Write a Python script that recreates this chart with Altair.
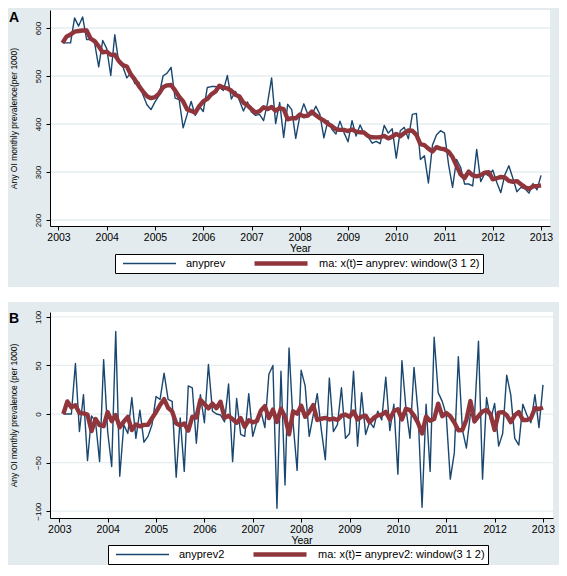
import altair as alt
import pandas as pd

# ---------------- data ----------------
years = list(range(2003, 2013))
months = list(range(1, 13))
t = [y + m / 12 for y in years for m in months]

anyprev = [
    569, 569, 569, 621, 604, 623, 576, 576, 568, 519,
    574, 557, 501, 586, 527, 520, 496, 506, 484, 487,
    461, 440, 430, 446, 459, 500, 506, 518, 454, 451,
    392, 420, 447, 418, 437, 426, 476, 478, 478, 476,
    470, 501, 452, 468, 449, 427, 446, 425, 418, 420,
    407, 444, 496, 401, 445, 372, 441, 430, 370, 416,
    442, 420, 419, 437, 420, 371, 407, 389, 379, 406,
    382, 363, 407, 375, 398, 380, 373, 360, 364, 359,
    397, 381, 390, 329, 386, 393, 369, 420, 422, 326,
    334, 277, 356, 377, 386, 381, 316, 268, 326, 310,
    275, 275, 271, 347, 280, 297, 292, 304, 278, 257,
    294, 313, 287, 259, 268, 265, 256, 276, 263, 293,
]

anyprev2 = [
    0, 0, 0, 52, -18, 20, -48, -2, -8, -49,
    56, -18, -54, 85, -64, -11, -20, 17, -25, 4,
    -29, -23, -11, 18, 15, 42, 15, 13, -65, -4,
    -59, 29, 27, -30, 20, -9, 51, 3, 0, -1,
    -8, 31, -49, 16, -21, -23, 21, -23, -8, 3,
    -14, 41, 50, -97, 44, -73, 68, -9, -58, 45,
    29, -23, -1, 21, -16, -47, 37, -18, -11, 27,
    -25, -20, 44, -33, 22, -21, -8, -14, 3, -6,
    38, -17, 10, -62, 55, 6, -25, 48, 2, -96,
    10, -59, 79, 22, 13, -1, -67, -40, 59, -16,
    -35, 0, -3, 75, -67, 17, -6, 11, -33, -20,
    40, 20, -25, -32, 10, -1, -9, 20, -14, 30,
]

names_a = ["anyprev", "ma: x(t)= anyprev: window(3 1 2)"]
names_b = ["anyprev2", "ma: x(t)= anyprev2: window(3 1 2)"]
yticks_a = [200, 300, 400, 500, 600]
yticks_b = [-100, -50, 0, 50, 100]
xticks = list(range(2003, 2014))

# ---------------- style ----------------
FONT = "Liberation Sans"
BG = "#e3ebee"
GRID = "#e6edf0"
COLORS = ["#1a476f", "#90353b"]
WIDTHS = [1.4, 4.4]


def panel(values, names, yticks, ydomain, xdomain, w, h, ytitle, letter,
          bg_y, letter_y, leg_xy):
    df = pd.DataFrame({"t": t, "value": values})
    one = alt.Data(values=[{}])
    xscale = alt.Scale(domain=xdomain, nice=False, zero=False)
    yscale = alt.Scale(domain=ydomain, nice=False, zero=False)

    xaxis = alt.Axis(values=xticks, format="d", title="Year", grid=False,
                     domainColor="black", domainWidth=1, tickColor="black",
                     tickSize=4, labelFont=FONT, labelFontSize=10.5,
                     labelColor="black", labelPadding=2, labelFlush=False,
                     titleFont=FONT, titleFontSize=10.5, titleFontWeight="normal",
                     titleColor="black", titlePadding=1, zindex=1)
    yaxis = alt.Axis(values=yticks, format="d", title=ytitle, grid=False,
                     domainColor="black", domainWidth=1, tickColor="black",
                     tickSize=4, labelFont=FONT, labelFontSize=8,
                     labelColor="black", labelPadding=4, labelAngle=270,
                     labelAlign="center", labelBaseline="bottom",
                     titleFont=FONT, titleFontSize=8.5, titleFontWeight="normal",
                     titleColor="black", titleAngle=270, titleX=-37,
                     titleY=h / 2, titleAlign="center", titleBaseline="middle",
                     zindex=1)

    leg = alt.Legend(title=None, orient="none", legendX=leg_xy[0],
                     legendY=leg_xy[1], direction="horizontal",
                     symbolType="stroke", symbolSize=2809, clipHeight=13,
                     labelFont=FONT, labelFontSize=11, labelColor="black",
                     fillColor="white", strokeColor="black", padding=3,
                     columnPadding=22, labelOffset=9, symbolOffset=4,
                     labelLimit=0, zindex=1)
    color = alt.Color("series:N", scale=alt.Scale(domain=names, range=COLORS),
                      legend=leg)
    sw = alt.StrokeWidth("series:N",
                         scale=alt.Scale(domain=names, range=WIDTHS),
                         legend=leg)

    x_enc = alt.X("t:Q", scale=xscale, axis=xaxis)
    y_enc = alt.Y("val:Q", scale=yscale, axis=yaxis)

    bg = alt.Chart(one).mark_rect(color=BG).encode(
        x=alt.value(-42), x2=alt.value(509),
        y=alt.value(bg_y[0]), y2=alt.value(bg_y[1]))
    plot_bg = alt.Chart(one).mark_rect(color="white").encode(
        x=alt.value(0), x2=alt.value(w), y=alt.value(0), y2=alt.value(h))
    grid = alt.Chart(pd.DataFrame({"val": yticks})).mark_rule(
        color=GRID, strokeWidth=1.3).encode(
        y=y_enc, x=alt.value(0), x2=alt.value(w))

    raw = alt.Chart(df).transform_calculate(
        val="datum.value", series=f"'{names[0]}'"
    ).mark_line(strokeJoin="round").encode(
        x=x_enc, y=y_enc, color=color, strokeWidth=sw)

    ma = alt.Chart(df).transform_window(
        ma="mean(value)", frame=[-3, 2], sort=[alt.SortField("t")]
    ).transform_calculate(
        val="datum.ma", series=f"'{names[1]}'"
    ).mark_line(strokeJoin="round").encode(
        x=x_enc, y=y_enc, color=color, strokeWidth=sw)

    lab = alt.Chart(one).mark_text(
        text=letter, font=FONT, fontSize=14, fontWeight="bold",
        align="left", baseline="alphabetic", color="black").encode(
        x=alt.value(-41), y=alt.value(letter_y))

    return alt.layer(bg, plot_bg, grid, raw, ma, lab).properties(
        width=w, height=h)


pa = panel(anyprev, names_a, yticks_a, [187.5, 637.5], [2002.824, 2013.186],
           500, 216, "Any OI monthly prevalence(per 1000)", "A",
           (-2, 277), 12, (65, 244))
pb = panel(anyprev2, names_b, yticks_b, [-107, 105], [2002.808, 2013.207],
           503, 206, "Any OI monthly prevalence (per 1000)", "B",
           (-10, 253), 11, (58, 233))

chart = alt.vconcat(pa, pb, spacing=15).resolve_scale(
    x="independent", y="independent", color="independent",
    strokeWidth="independent"
).resolve_legend(color="independent", strokeWidth="independent").properties(
    padding=0, background="white"
).configure_view(stroke=None)

chart.save("out.html", embed_options={"renderer": "svg", "actions": False})
